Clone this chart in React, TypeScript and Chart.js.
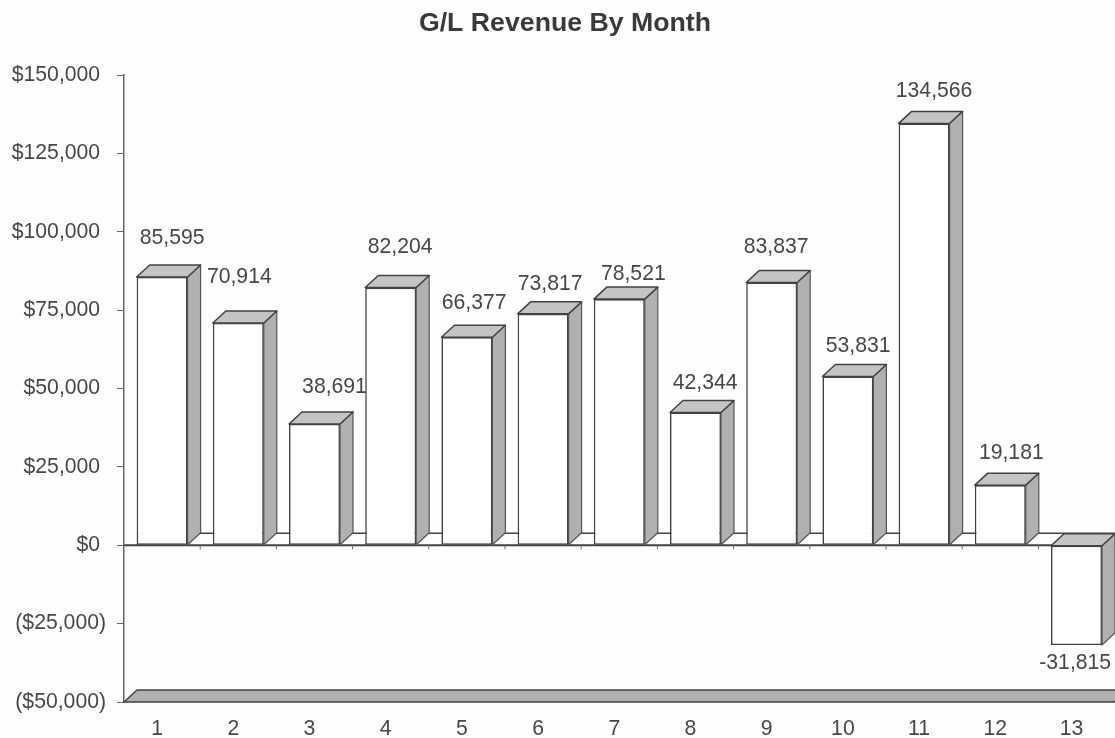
import React, { useEffect, useRef } from "react";
import { Chart, registerables } from "chart.js";

Chart.register(...registerables);

const chartTitle = "G/L Revenue By Month";
const months = ["1", "2", "3", "4", "5", "6", "7", "8", "9", "10", "11", "12", "13"];
const revenue = [85595, 70914, 38691, 82204, 66377, 73817, 78521, 42344, 83837, 53831, 134566, 19181, -31815];
const axisMin = -50000;
const axisMax = 150000;
const axisStep = 25000;

// Hand placement of each value label, relative to its bar (pixels).
const labelNudgeX = [10, 1, 20, 9.5, 7.3, 7, 14, 9.7, 4.5, 10.3, 10, 11, -1.3];
const labelNudgeY = [27, 34, 25, 28, 22, 18, 13, 17, 23, 18, 20, 20, 18];

const DEPTH_X = 13;
const DEPTH_Y = 12;
const FONT = '"Liberation Sans", Arial, sans-serif';
const FONT_SIZE = 21.2;
const TEXT = "#474747";
const EDGE = "#424242";
const SIDE_EDGE = "#555555";
const SIDE = "#b0b0b0";
const TOP = "#c4c4c4";
const AXIS = "#666666";

const fmtMoney = (v: number) => {
  const s = "$" + Math.abs(v).toLocaleString("en-US");
  return v < 0 ? "(" + s + ")" : s + "\u00a0";
};

function poly(ctx: CanvasRenderingContext2D, pts: number[][], fill: string | null, stroke: string, lw: number) {
  ctx.beginPath();
  pts.forEach((p, i) => (i ? ctx.lineTo(p[0], p[1]) : ctx.moveTo(p[0], p[1])));
  ctx.closePath();
  if (fill) {
    ctx.fillStyle = fill;
    ctx.fill();
  }
  ctx.strokeStyle = stroke;
  ctx.lineWidth = lw;
  ctx.lineJoin = "round";
  ctx.stroke();
}

const planePlugin = {
  id: "plane",
  afterLayout(chart: any) {
    // the value axis labels may use the full left margin without being clipped
    chart.scales.y.left = 0;
  },
  beforeDatasetsDraw(chart: any) {
    const { ctx, scales } = chart;
    const x = scales.x;
    const y = scales.y;
    const left = x.left;
    const right = x.right;
    const y0 = y.getPixelForValue(0);
    const yb = y.getPixelForValue(axisMin);
    ctx.save();
    poly(
      ctx,
      [
        [left, yb],
        [left + DEPTH_X, yb - DEPTH_Y],
        [right + DEPTH_X, yb - DEPTH_Y],
        [right, yb],
      ],
      SIDE,
      EDGE,
      1.5
    );
    // zero plane back edge
    ctx.strokeStyle = EDGE;
    ctx.lineWidth = 1.5;
    ctx.beginPath();
    ctx.moveTo(left + DEPTH_X, y0 - DEPTH_Y);
    ctx.lineTo(right + DEPTH_X, y0 - DEPTH_Y);
    ctx.stroke();
    ctx.restore();
  },
};

const extrudePlugin = {
  id: "extrude",
  afterDatasetsDraw(chart: any) {
    const { ctx, scales } = chart;
    const meta = chart.getDatasetMeta(0);
    const y0 = scales.y.getPixelForValue(0);
    ctx.save();
    // zero line with small category ticks
    ctx.strokeStyle = EDGE;
    ctx.lineWidth = 2;
    ctx.beginPath();
    ctx.moveTo(scales.x.left, y0);
    ctx.lineTo(scales.x.right, y0);
    ctx.stroke();
    ctx.lineWidth = 1;
    ctx.strokeStyle = AXIS;
    ctx.beginPath();
    const step = (scales.x.right - scales.x.left) / months.length;
    months.forEach((_, i) => {
      const tx = scales.x.left + step * (i + 1);
      ctx.moveTo(tx, y0);
      ctx.lineTo(tx, y0 + 4);
    });
    ctx.stroke();

    meta.data.forEach((bar: any) => {
      const l = bar.x - bar.width / 2;
      const r = bar.x + bar.width / 2;
      const t = Math.min(bar.y, bar.base);
      const b = Math.max(bar.y, bar.base);
      poly(
        ctx,
        [
          [r, t],
          [r + DEPTH_X, t - DEPTH_Y],
          [r + DEPTH_X, b - DEPTH_Y],
          [r, b],
        ],
        SIDE,
        SIDE_EDGE,
        1.2
      );
      poly(
        ctx,
        [
          [l, t],
          [l + DEPTH_X, t - DEPTH_Y],
          [r + DEPTH_X, t - DEPTH_Y],
          [r, t],
        ],
        TOP,
        EDGE,
        1.5
      );
    });

    ctx.font = FONT_SIZE + "px " + FONT;
    ctx.fillStyle = TEXT;
    ctx.textAlign = "center";
    ctx.textBaseline = "middle";
    meta.data.forEach((bar: any, i: number) => {
      const v = revenue[i];
      const txt = v.toLocaleString("en-US");
      const lx = bar.x + labelNudgeX[i];
      const ly = v >= 0 ? bar.y - DEPTH_Y - labelNudgeY[i] : bar.y + labelNudgeY[i];
      ctx.fillText(txt, lx, ly);
    });
    ctx.restore();
  },
};

export default function App() {
  const ref = useRef<HTMLCanvasElement | null>(null);
  useEffect(() => {
    document.body.style.margin = "0";
    document.body.style.background = "#fefefe";
    const chart = new Chart(ref.current as HTMLCanvasElement, {
      type: "bar",
      data: {
        labels: months,
        datasets: [
          {
            data: revenue,
            backgroundColor: "#ffffff",
            borderColor: EDGE,
            borderWidth: 1.6,
            borderSkipped: false,
            categoryPercentage: 1,
            barPercentage: 0.669,
          },
        ],
      },
      options: {
        animation: false,
        responsive: false,
        layout: { padding: { left: 15.4, right: 0.4, top: 0, bottom: 0 } },
        plugins: {
          legend: { display: false },
          tooltip: { enabled: false },
          title: {
            display: true,
            text: chartTitle,
            color: "#3a3a3a",
            font: { family: FONT, size: 26.7, weight: "bold" },
            padding: { top: 8, bottom: 35 },
          },
        },
        scales: {
          x: {
            grid: { display: false },
            border: { display: false },
            ticks: {
              color: TEXT,
              font: { family: FONT, size: FONT_SIZE },
              padding: 6,
              maxRotation: 0,
              labelOffset: -5,
              autoSkip: false,
            },
            afterFit(s: any) {
              s.height = 36;
            },
          },
          y: {
            min: axisMin,
            max: axisMax,
            grid: { drawOnChartArea: false, color: AXIS, tickLength: 7, lineWidth: 1 },
            border: { display: true, color: AXIS, width: 1.5 },
            ticks: {
              stepSize: axisStep,
              color: TEXT,
              font: { family: FONT, size: FONT_SIZE },
              padding: 11,
              callback: (v: any) => fmtMoney(Number(v)),
            },
            afterFit(s: any) {
              s.width = 108.6;
            },
          },
        },
      },
      plugins: [planePlugin, extrudePlugin],
    } as any);
    return () => chart.destroy();
  }, []);
  return (
    <div style={{ position: "absolute", left: 0, top: 0, width: 1115, height: 738, overflow: "hidden", background: "#fefefe" }}>
      <canvas ref={ref} width={1115} height={738} style={{ display: "block" }} />
    </div>
  );
}
